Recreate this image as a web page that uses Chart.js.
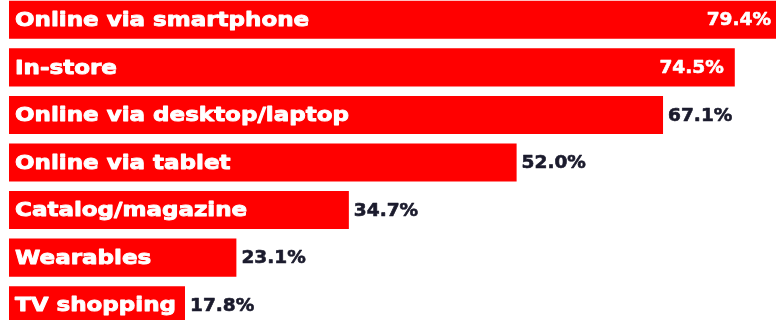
<!DOCTYPE html>
<html>
<head>
<meta charset="utf-8">
<script src="https://cdn.jsdelivr.net/npm/chart.js@4/dist/chart.umd.min.js"></script>
<style>
  html, body { margin: 0; padding: 0; background: #fff; overflow: hidden; }
  body { width: 776px; height: 320px; position: relative; }
  #wrap { position: absolute; left: 0; top: -4px; width: 776px; height: 333px; }
</style>
</head>
<body>
<div id="wrap"><canvas id="chart"></canvas></div>
<script>
// Shopping channels and share of respondents (%)
const channels = [
  'Online via smartphone',
  'In-store',
  'Online via desktop/laptop',
  'Online via tablet',
  'Catalog/magazine',
  'Wearables',
  'TV shopping'
];
const shares = [79.4, 74.5, 67.1, 52.0, 34.7, 23.1, 17.8];

const BAR_RED = '#ff0000';
const LABEL_FONT = 'bold 20px "DejaVu Sans", Verdana, sans-serif';
const LABEL_STRETCH = 1.15;
const VALUE_FONT = 'bold 18px "DejaVu Sans", Verdana, sans-serif';
const VALUE_STRETCH = 1.03;

// Draw heavy, slightly widened bold text; returns drawn width.
function wideText(ctx, txt, x, y, stretch, align, weight) {
  const w = ctx.measureText(txt).width * stretch;
  const x0 = align === 'right' ? x - w : x;
  ctx.save();
  ctx.translate(x0, y);
  ctx.scale(stretch, 1);
  ctx.textAlign = 'left';
  ctx.fillText(txt, 0, 0);
  if (weight > 0) {
    ctx.strokeStyle = ctx.fillStyle;
    ctx.lineWidth = weight;
    ctx.lineJoin = 'round';
    ctx.strokeText(txt, 0, 0);
  }
  ctx.restore();
  return w;
}

// Category name inside each bar; value just past the bar end, or inside it when it would not fit.
const barLabels = {
  id: 'barLabels',
  afterDatasetsDraw(chart) {
    const { ctx, chartArea } = chart;
    const meta = chart.getDatasetMeta(0);
    ctx.save();
    ctx.textBaseline = 'middle';
    meta.data.forEach((bar, i) => {
      const left = bar.base;
      const right = Math.min(bar.x, chartArea.right + 6);
      ctx.font = LABEL_FONT;
      ctx.fillStyle = '#ffffff';
      wideText(ctx, channels[i], left + 6, bar.y + 1, LABEL_STRETCH, 'left', 0.9);

      const txt = shares[i].toFixed(1) + '%';
      ctx.font = VALUE_FONT;
      const w = ctx.measureText(txt).width * VALUE_STRETCH;
      if (bar.x + 5 + w <= chartArea.right) {
        ctx.fillStyle = '#1b1b2d';
        wideText(ctx, txt, bar.x + 5, bar.y + 1, VALUE_STRETCH, 'left', 0.6);
      } else {
        ctx.fillStyle = '#ffffff';
        wideText(ctx, txt, right - 11, bar.y + 1, VALUE_STRETCH, 'right', 0.6);
      }
    });
    ctx.restore();
  }
};

new Chart(document.getElementById('chart'), {
  type: 'bar',
  data: {
    labels: channels,
    datasets: [{
      data: shares,
      backgroundColor: BAR_RED,
      borderWidth: 0,
      base: -0.35,
      barPercentage: 0.8,
      categoryPercentage: 1.0
    }]
  },
  options: {
    indexAxis: 'y',
    responsive: true,
    maintainAspectRatio: false,
    animation: false,
    layout: { padding: { left: 9, right: 0, top: 0, bottom: 0 } },
    plugins: { legend: { display: false }, tooltip: { enabled: false } },
    scales: {
      x: { display: false, min: -0.35, max: 78.75, grid: { display: false } },
      y: { display: false, grid: { display: false } }
    }
  },
  plugins: [barLabels]
});
</script>
</body>
</html>
